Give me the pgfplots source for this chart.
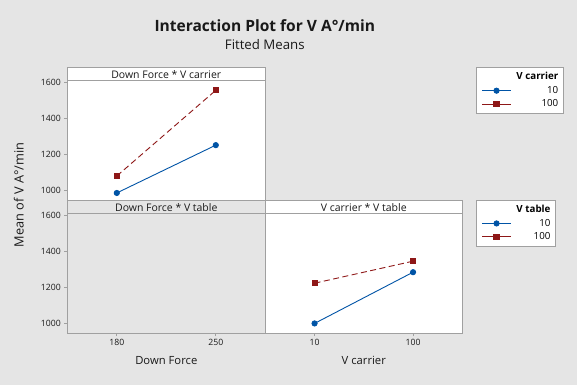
\documentclass[border=0pt]{standalone}
\usepackage{fontspec}
\setmainfont{Open Sans}
\usepackage{pgfplots}
\pgfplotsset{compat=1.18}
\definecolor{bg}{RGB}{229,229,229}
\definecolor{frame}{RGB}{160,160,160}
\definecolor{mblue}{RGB}{0,84,166}
\definecolor{mred}{RGB}{142,23,23}
\pgfplotsset{
  panel/.style={
    scale only axis, height=120bp,
    xmin=-0.5, xmax=1.5, ymin=947, ymax=1612,
    axis line style={frame, line width=0.8bp},
    tick style={frame, line width=0.8bp},
    tick align=outside, major tick length=3bp,
    /pgf/number format/assume math mode=true,
    /pgf/number format/1000 sep={},
    ticklabel style={font=\fontsize{8.7}{10}\selectfont, text=black!90},
    ytick={1000,1200,1400,1600},
    xtick pos=bottom, ytick pos=left,
    xlabel style={font=\fontsize{11.3}{13}\selectfont, text=black!90, at={(axis description cs:0.5,0)}, anchor=base, yshift=-31.3bp},
    legend image code/.code={\draw[mark repeat=2,mark phase=2,#1,solid] plot coordinates {(0bp,0bp) (14.5bp,0bp) (29bp,0bp)};},
  },
  leg/.style={legend style={
    draw=frame, line width=0.8bp, fill=white,
    font=\fontsize{9.8}{11}\selectfont,
    inner xsep=5.2bp, inner ysep=2.75bp,
    nodes={inner xsep=0bp, inner ysep=2bp, text height=7.5bp, text depth=2bp},
    /tikz/every odd column/.append style={column sep=5bp},
  }, legend cell align=right},
  blueline/.style={mblue, line width=0.9bp, mark=*, mark size=2.6bp},
  redline/.style={mred, line width=0.9bp, dash pattern=on 6bp off 3.5bp, mark=square*, mark size=2.6bp, mark options={solid}},
}
\begin{document}
\begin{tikzpicture}
\fill[bg] (0bp,0bp) rectangle (577bp,-385bp);
\useasboundingbox (0bp,0bp) rectangle (577bp,-385bp);

% top-left panel
\begin{axis}[panel, leg, at={(67.3bp,-200bp)}, anchor=south west, width=198bp,
  xtick=\empty, axis background/.style={fill=white},
  legend style={at={(axis description cs:2.064,1.106)}, anchor=north west}]
\addlegendimage{empty legend}
\addplot[blueline] coordinates {(0,986) (1,1251)};
\addplot[redline] coordinates {(0,1080) (1,1555)};
\legend{\textbf{V carrier},10,100}
\end{axis}

% bottom-left panel (empty)
\begin{axis}[panel, at={(67.3bp,-333bp)}, anchor=south west, width=198bp,
  xtick={0,1}, xticklabels={180,250}, xlabel={Down Force}]
\addplot[draw=none] coordinates {(0,1000)};
\end{axis}

% bottom-right panel
\begin{axis}[panel, leg, at={(265.3bp,-333bp)}, anchor=south west, width=197bp,
  ytick=\empty, xtick={0,1}, xticklabels={10,100}, xlabel={V carrier},
  axis background/.style={fill=white},
  legend style={at={(axis description cs:1.0695,1.108)}, anchor=north west}]
\addlegendimage{empty legend}
\addplot[blueline] coordinates {(0,1000) (1,1284)};
\addplot[redline] coordinates {(0,1223) (1,1345)};
\legend{\textbf{V table},10,100}
\end{axis}

% strips
\draw[frame, line width=0.8bp, fill=white] (67.3bp,-67.3bp) rectangle (265.3bp,-80bp);
\draw[frame, line width=0.8bp, fill=bg] (67.3bp,-200bp) rectangle (265.3bp,-213bp);
\draw[frame, line width=0.8bp, fill=white] (265.3bp,-200bp) rectangle (462.3bp,-213bp);
\node[font=\fontsize{10.5}{12}\selectfont, text=black!90, anchor=base] at (166.3bp,-78.6bp) {Down Force * V carrier};
\node[font=\fontsize{10.5}{12}\selectfont, text=black!90, anchor=base] at (166.3bp,-211.6bp) {Down Force * V table};
\node[font=\fontsize{10.5}{12}\selectfont, text=black!90, anchor=base] at (363.8bp,-211.6bp) {V carrier * V table};

% titles
\node[font=\bfseries\fontsize{15.6}{18}\selectfont, text=black!90, anchor=base] at (264.8bp,-31.7bp) {Interaction Plot for V A°/min};
\node[font=\fontsize{13.3}{15}\selectfont, text=black!90, anchor=base] at (264.8bp,-49bp) {Fitted Means};
\node[font=\fontsize{12.8}{14}\selectfont, text=black!90, rotate=90, anchor=base] at (23.5bp,-195bp) {Mean of V A°/min};
\end{tikzpicture}
\end{document}
